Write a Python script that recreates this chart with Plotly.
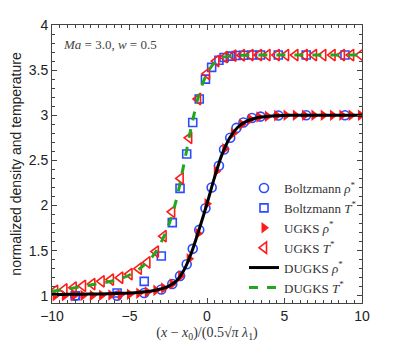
import plotly.graph_objects as go

# ---- data ----
x_boltz = [-8.5, -5.8, -4.05, -2.95, -2.24, -1.74, -1.31, -0.92, -0.5, -0.1, 0.3,
           0.77, 1.1, 1.5, 1.9, 2.35, 2.9, 3.45, 4.6, 6.4, 8.9]
rho_boltz = [1.0, 1.0, 1.03, 1.07, 1.13, 1.22, 1.35, 1.52, 1.73, 1.97, 2.2,
             2.44, 2.62, 2.75, 2.86, 2.92, 2.97, 2.985, 2.997, 3.0, 3.0]
T_boltz = [1.0, 1.03, 1.16, 1.44, 1.81, 2.19, 2.57, 2.92, 3.18, 3.4, 3.53,
           3.61, 3.64, 3.655, 3.662, 3.665, 3.667, 3.667, 3.667, 3.667, 3.667]

x_ugks = [-9.8, -9.2, -8.6, -8.0, -7.4, -6.8, -6.2, -5.6, -5.0, -4.4, -3.85, -3.3,
          -2.8, -2.25, -1.7, -1.15, -0.58, 0.0, 0.6, 1.15, 1.7, 2.25, 2.8, 3.35,
          3.9, 4.5, 5.1, 5.7, 6.3, 6.9, 7.5, 8.1, 8.7, 9.3, 9.9]
rho_ugks = [1.0, 1.0, 1.0, 1.002, 1.003, 1.005, 1.008, 1.012, 1.018, 1.028, 1.042, 1.06,
            1.085, 1.13, 1.22, 1.41, 1.69, 2.02, 2.38, 2.63, 2.8, 2.9, 2.955, 2.98,
            2.99, 2.996, 2.999, 3.0, 3.0, 3.0, 3.0, 3.0, 3.0, 3.0, 3.0]
T_ugks = [1.055, 1.07, 1.09, 1.11, 1.13, 1.16, 1.18, 1.2, 1.24, 1.3, 1.37, 1.49,
          1.66, 1.93, 2.3, 2.75, 3.18, 3.46, 3.6, 3.645, 3.66, 3.665, 3.667, 3.667,
          3.667, 3.667, 3.667, 3.667, 3.667, 3.667, 3.667, 3.667, 3.667, 3.667, 3.667]

x_dugks = [-10, -9.5, -9, -8.5, -8, -7.5, -7, -6.5, -6, -5.5, -5, -4.5, -4, -3.5,
           -3, -2.5, -2, -1.5, -1, -0.5, 0, 0.5, 1, 1.5, 2, 2.5, 3, 3.5, 4, 4.5,
           5, 5.5, 6, 6.5, 7, 7.5, 8, 8.5, 9, 9.5, 10]
rho_dugks = [1.015, 1.015, 1.016, 1.017, 1.018, 1.019, 1.02, 1.022, 1.024, 1.027,
             1.031, 1.036, 1.044, 1.055, 1.075, 1.105, 1.16, 1.28, 1.48, 1.74,
             2.02, 2.32, 2.58, 2.76, 2.87, 2.93, 2.962, 2.98, 2.99, 2.995,
             2.998, 2.999, 3.0, 3.0, 3.0, 3.0, 3.0, 3.0, 3.0, 3.0, 3.0]
T_dugks = [1.05, 1.062, 1.075, 1.09, 1.105, 1.12, 1.135, 1.15, 1.17, 1.195,
           1.23, 1.28, 1.35, 1.44, 1.58, 1.77, 2.05, 2.45, 2.88, 3.24,
           3.46, 3.585, 3.64, 3.657, 3.663, 3.666, 3.667, 3.667, 3.667, 3.667,
           3.667, 3.667, 3.667, 3.667, 3.667, 3.667, 3.667, 3.667, 3.667, 3.667, 3.667]

names = ["Boltzmann <i>ρ</i><sup>*</sup>", "Boltzmann <i>T</i><sup>*</sup>",
         "UGKS <i>ρ</i><sup>*</sup>", "UGKS <i>T</i><sup>*</sup>",
         "DUGKS <i>ρ</i><sup>*</sup>", "DUGKS <i>T</i><sup>*</sup>"]

BLUE = "#2a4bff"
RED = "#ff1a1a"
GREEN = "#22a61e"

fig = go.Figure()
fig.add_trace(go.Scatter(x=x_boltz, y=rho_boltz, mode="markers", name=names[0],
                         marker=dict(symbol="circle-open", size=9, color=BLUE,
                                     line=dict(width=1.6, color=BLUE))))
fig.add_trace(go.Scatter(x=x_boltz, y=T_boltz, mode="markers", name=names[1],
                         marker=dict(symbol="square-open", size=8, color=BLUE,
                                     line=dict(width=1.6, color=BLUE))))
fig.add_trace(go.Scatter(x=x_ugks, y=rho_ugks, mode="markers", name=names[2],
                         marker=dict(symbol="triangle-right", size=10, color=RED,
                                     line=dict(width=0))))
fig.add_trace(go.Scatter(x=x_ugks, y=T_ugks, mode="markers", name=names[3],
                         marker=dict(symbol="triangle-left-open", size=10, color=RED,
                                     line=dict(width=1.6, color=RED))))
fig.add_trace(go.Scatter(x=x_dugks, y=rho_dugks, mode="lines", name=names[4],
                         line=dict(color="black", width=3, shape="spline")))
fig.add_trace(go.Scatter(x=x_dugks, y=T_dugks, mode="lines", name=names[5],
                         line=dict(color=GREEN, width=3, dash="dash", shape="spline")))

axis_common = dict(showline=True, linecolor="#444", linewidth=1, mirror="ticks",
                   ticks="inside", ticklen=5, tickwidth=1, tickcolor="#444",
                   showgrid=False, zeroline=False, automargin=False,
                   tickfont=dict(family="Liberation Sans, Arial", size=14, color="#222"))

fig.update_xaxes(range=[-10, 10], tickvals=[-10, -5, 0, 5, 10],
                 minor=dict(ticks="inside", ticklen=3, dtick=0.5, tick0=0,
                            tickcolor="#444", showgrid=False),
                 title=dict(text="(<i>x</i> − <i>x</i><sub>0</sub>)/(0.5√<i>π</i> <i>λ</i><sub>1</sub>)",
                            font=dict(family="Liberation Serif, serif", size=14, color="#333")),
                 **axis_common)
fig.update_yaxes(range=[0.92, 4], tickvals=[1, 1.5, 2, 2.5, 3, 3.5, 4],
                 ticktext=["1", "1.5", "2", "2.5", "3", "3.5", "4"],
                 minor=dict(ticks="inside", ticklen=3, dtick=0.1, tick0=0,
                            tickcolor="#444", showgrid=False),
                 title=dict(text="normalized density and temperature",
                            font=dict(family="Liberation Sans, Arial", size=14, color="#222")),
                 **axis_common)

fig.add_annotation(x=0.03, y=0.93, xref="paper", yref="paper", xanchor="left",
                   yanchor="middle", showarrow=False,
                   text="<i>Ma</i> = 3.0, <i>w</i> = 0.5",
                   font=dict(family="Liberation Serif, serif", size=13, color="#444"))

# page body has an 8px margin, so the figure is sized to fit inside the window
fig.update_layout(
    width=391, height=334,
    margin=dict(l=44, r=37, t=17, b=39),
    paper_bgcolor="white", plot_bgcolor="white",
    showlegend=True,
    legend=dict(x=1, xanchor="right", y=0, yanchor="bottom",
                bgcolor="rgba(0,0,0,0)", borderwidth=0, itemwidth=30,
                tracegroupgap=0,
                font=dict(family="Liberation Serif, serif", size=13, color="#333")),
)

fig.write_html("out.html")
